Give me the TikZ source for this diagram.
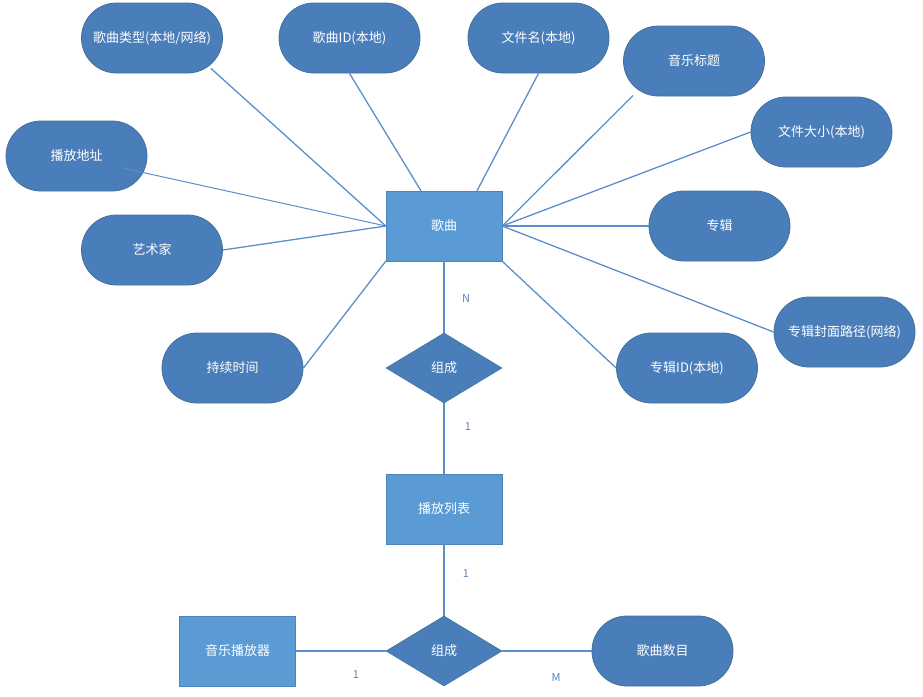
\documentclass[tikz,border=0pt]{standalone}
\usepackage{fontspec}
\setmainfont{Noto Sans CJK SC}
\usetikzlibrary{shapes.geometric,calc}
\definecolor{attrfill}{HTML}{4A7EBB}
\definecolor{attrdraw}{HTML}{41719C}
\definecolor{entfill}{HTML}{5B9BD5}
\definecolor{linec}{HTML}{5B8FCB}
\definecolor{lblc}{HTML}{5A86B8}
\tikzset{
  attr/.style={draw=attrdraw, line width=0.8pt, fill=attrfill, rounded corners=35pt,
    minimum width=141pt, minimum height=70pt, inner sep=0pt, text=white, font=\fontsize{13pt}{15pt}\selectfont},
  ent/.style={draw=entfill!85!black, line width=0.4pt, fill=entfill, minimum width=116pt, minimum height=70pt,
    inner sep=0pt, text=white, font=\fontsize{13pt}{15pt}\selectfont},
  rel/.style={diamond, draw=attrdraw, line width=0.6pt, fill=attrfill, aspect=1.66, minimum width=116pt, minimum height=70pt,
    inner sep=0pt, text=white, font=\fontsize{13pt}{15pt}\selectfont},
  conn/.style={draw=linec, line width=1.3pt},
  card/.style={text=lblc, font=\fontsize{11pt}{13pt}\selectfont, inner sep=0pt}
}
\begin{document}
\begin{tikzpicture}[x=1pt,y=-1pt]
\useasboundingbox (0,0) rectangle (923,696);
% entities
\node[ent] (song) at (444,226) {歌曲};
\node[ent] (plist) at (444,509) {播放列表};
\node[ent] (player) at (237.5,651) {音乐播放器};
% relations
\node[rel] (r1) at (444,368) {组成};
\node[rel] (r2) at (444,651) {组成};
% attributes
\node[attr] (a1) at (152,38) {歌曲类型(本地/网络)};
\node[attr] (a2) at (349.5,38) {歌曲ID(本地)};
\node[attr] (a3) at (538.5,38) {文件名(本地)};
\node[attr] (a4) at (694,61) {音乐标题};
\node[attr] (a5) at (821.5,132) {文件大小(本地)};
\node[attr] (a6) at (76.5,156) {播放地址};
\node[attr] (a7) at (152,250) {艺术家};
\node[attr] (a8) at (719.5,226) {专辑};
\node[attr] (a9) at (844.5,332) {专辑封面路径(网络)};
\node[attr] (a10) at (232.5,368) {持续时间};
\node[attr] (a11) at (687,368) {专辑ID(本地)};
\node[attr] (a12) at (662.5,651) {歌曲数目};
% connectors
\draw[conn] ($(a1.south east)+(-12,-5)$) -- (song.west);
\draw[conn] (a2.south) -- ($(song.north)+(-23,0)$);
\draw[conn] (a3.south) -- ($(song.north)+(33,0)$);
\draw[conn] ($(a4.south west)+(10,-1)$) -- (song.east);
\draw[conn] (a5.west) -- (song.east);
\draw[conn, line width=1pt] ($(a6.east)+(-25,12)$) -- (song.west);
\draw[conn] (a7.east) -- (song.west);
\draw[conn] (a8.west) -- (song.east);
\draw[conn] (a9.west) -- (song.east);
\draw[conn] (a10.east) -- (song.south west);
\draw[conn] (a11.west) -- (song.south east);
\draw[conn] (song) -- (r1);
\draw[conn] (r1) -- (plist);
\draw[conn] (plist) -- (r2);
\draw[conn] (player) -- (r2);
\draw[conn] (r2) -- (a12);
% cardinalities
\node[card] (cN) at (466,298) {N};
\node[card] (c1a) at (468,427) {1};
\node[card] (c1b) at (466,574) {1};
\node[card] (c1c) at (356,675) {1};
\node[card] (cM) at (556,677) {M};
\end{tikzpicture}
\end{document}
